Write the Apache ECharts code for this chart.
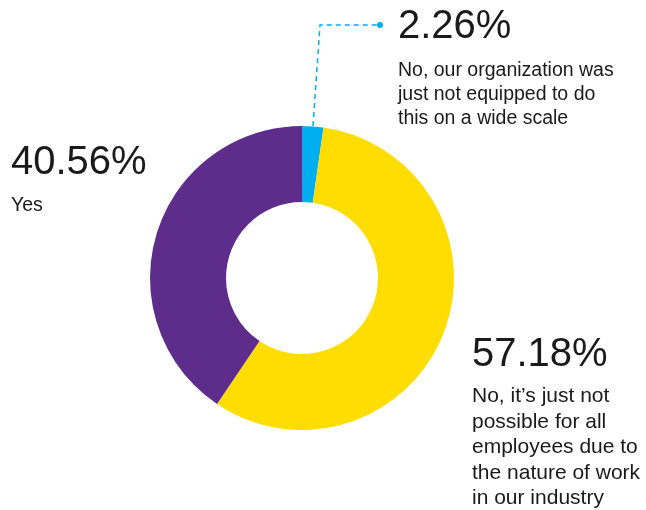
<!DOCTYPE html>
<html>
<head>
<meta charset="utf-8">
<script src="https://cdn.jsdelivr.net/npm/echarts@6/dist/echarts.min.js"></script>
<style>
  html, body { margin: 0; padding: 0; background: #ffffff; }
  #chart { width: 646px; height: 510px; }
</style>
</head>
<body>
<div id="chart"></div>
<script>
// Survey answers, in clockwise order from 12 o'clock
const answers = [
  'No, our organization was\njust not equipped to do\nthis on a wide scale',
  'No, it\u2019s just not\npossible for all\nemployees due to\nthe nature of work\nin our industry',
  'Yes'
];
const shares = [2.26, 57.18, 40.56];
const sliceColors = ['#00aeef', '#ffdd00', '#5e2d8c'];

// Label block placement (top-left corner) and typography per answer
const labelPos = [[398, -5], [472, 326.25], [11, 131]];
const pctLineHeight = [64, 57.5, 64];
const descSize = [19.5, 21, 19.5];
const descLineHeight = [24, 25.5, 21];

const FONT = '"Liberation Sans", Arial, Helvetica, sans-serif';

const chart = echarts.init(document.getElementById('chart'), null, { renderer: 'canvas' });

const data = shares.map((v, i) => ({
  value: v,
  name: answers[i],
  itemStyle: { color: sliceColors[i] },
  label: {
    show: true,
    formatter: '{p|' + v.toFixed(2) + '%}\n' +
      answers[i].split('\n').map(s => '{d|' + s + '}').join('\n'),
    rich: {
      p: { fontFamily: FONT, fontSize: 40, lineHeight: pctLineHeight[i], color: '#1a1a1a' },
      d: { fontFamily: FONT, fontSize: descSize[i], lineHeight: descLineHeight[i], color: '#1a1a1a' }
    }
  },
  labelLine: { show: i === 0 }
}));

chart.setOption({
  animation: false,
  backgroundColor: '#ffffff',
  series: [{
    type: 'pie',
    center: [302, 278],
    radius: [76, 152],
    startAngle: 90,
    clockwise: true,
    avoidLabelOverlap: false,
    silent: true,
    emphasis: { disabled: true },
    itemStyle: { borderWidth: 0 },
    label: { show: true, position: 'outside' },
    labelLine: {
      show: false,
      lineStyle: { color: '#00aeef', width: 1.5, type: [5, 4] }
    },
    labelLayout: function (params) {
      const i = params.dataIndex;
      const out = {
        x: labelPos[i][0],
        y: labelPos[i][1],
        align: 'left',
        verticalAlign: 'top'
      };
      if (i === 0) {
        out.labelLinePoints = [[313, 126], [320, 25], [379, 25]];
      }
      return out;
    },
    data: data
  }],
  graphic: [{
    type: 'circle',
    shape: { cx: 380, cy: 25, r: 3 },
    style: { fill: '#00aeef' },
    silent: true
  }]
});
</script>
</body>
</html>
